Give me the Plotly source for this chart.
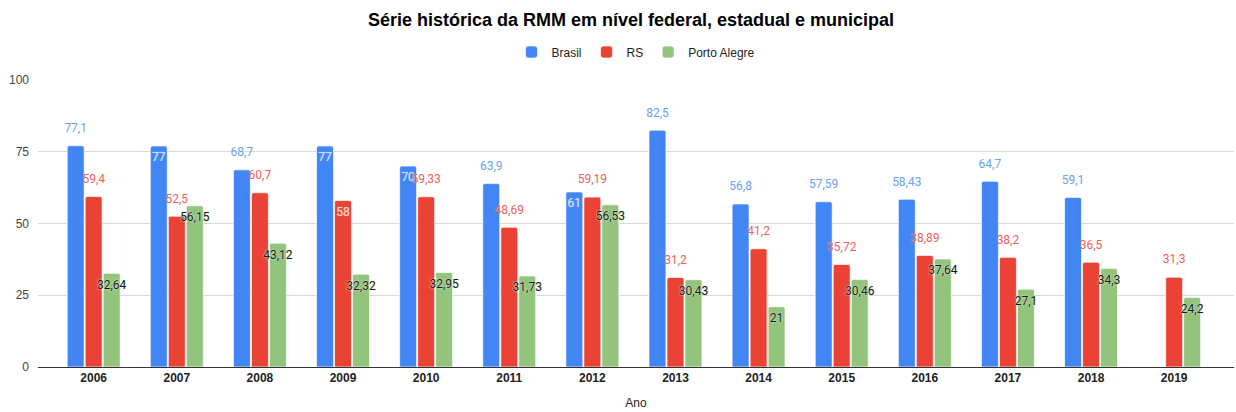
import plotly.graph_objects as go

anos = ["2006", "2007", "2008", "2009", "2010", "2011", "2012",
        "2013", "2014", "2015", "2016", "2017", "2018", "2019"]
brasil = [77.1, 77, 68.7, 77, 70, 63.9, 61, 82.5, 56.8, 57.59, 58.43, 64.7, 59.1, None]
rs = [59.4, 52.5, 60.7, 58, 59.33, 48.69, 59.19, 31.2, 41.2, 35.72, 38.89, 38.2, 36.5, 31.3]
porto_alegre = [32.64, 56.15, 43.12, 32.32, 32.95, 31.73, 56.53, 30.43, 21, 30.46, 37.64, 27.1, 34.3, 24.2]

# label placement style (True = inside the bar top, False = above)
brasil_inside = [False, True, False, True, True, False, True, False, False, False, False, False, False, False]
rs_inside = [False, False, False, True] + [False] * 10
pa_inside = [True] * 14

# name, values, bar colour, outside label colour, inside label colour, halo, placement
series = [
    ("Brasil", brasil, "#4285F4", "#6a9ff6", "#cddffc", "rgba(255,255,255,0.6)", brasil_inside),
    ("RS", rs, "#EA4335", "#ef6158", "#fbd0cc", "rgba(255,255,255,0.6)", rs_inside),
    ("Porto Alegre", porto_alegre, "#93C47D", "#1a1a1a", "#1a1a1a", "#d3e9c8", pa_inside),
]

def fmt(v):
    return "" if v is None else ("%g" % v).replace(".", ",")

fig = go.Figure()
for name, vals, col, lcol, icol, halo, inside in series:
    fig.add_trace(go.Bar(name=name, x=anos, y=vals, hoverinfo="skip",
                         marker=dict(color=col, line=dict(width=0.8, color="rgba(255,255,255,0.85)"))))
for name, vals, col, lcol, icol, halo, inside in series:
    shadow = f"0 0 2px {halo}, 0 0 1px {halo}" if name == "Porto Alegre" else f"0 0 1px {halo}"
    fig.add_trace(go.Scatter(
        x=anos, y=vals, mode="markers+text", showlegend=False, hoverinfo="skip",
        text=[fmt(v) for v in vals],
        textposition=["bottom center" if ins else "top center" for ins in inside],
        marker=dict(color="rgba(0,0,0,0)", size=[8.5 if ins else 15.5 for ins in inside],
                    line=dict(width=0)),
        textfont=dict(family="Roboto", size=12,
                      color=[icol if ins else lcol for ins in inside],
                      shadow=shadow),
        cliponaxis=False,
    ))

fig.update_layout(
    width=1236, height=412,
    margin=dict(l=38, r=2, t=80, b=45),
    paper_bgcolor="white", plot_bgcolor="white",
    barmode="group", bargap=0.35, bargroupgap=0.06, barcornerradius=2,
    scattermode="group", scattergap=0.35,
    title=dict(text="<b>Série histórica da RMM em nível federal, estadual e municipal</b>",
               x=0.5105, xref="container", xanchor="center", y=0.951, yref="container", yanchor="middle",
               font=dict(family="Liberation Sans", size=18, color="#000")),
    legend=dict(orientation="h", x=0.5, xanchor="center", y=1.0976, yanchor="middle",
                font=dict(family="Liberation Sans", size=12, color="#222"),
                itemwidth=30, tracegroupgap=0),
    font=dict(family="Liberation Sans", size=12, color="#222"),
    xaxis=dict(type="category", range=[-0.67, 13.72], showgrid=False, showline=True,
               linecolor="#333", linewidth=1,
               tickfont=dict(family="Liberation Sans", size=12, color="#222", weight="bold"),
               title=dict(text="Ano", font=dict(family="Liberation Sans", size=12, color="#222"), standoff=14)),
    yaxis=dict(range=[0, 100], tickvals=[0, 25, 50, 75, 100], gridcolor="#d9d9d9", gridwidth=1,
               zeroline=False, tickfont=dict(family="Liberation Sans", size=12, color="#444"),
               ticklabelstandoff=8),
)

fig.write_html("out.html", config=dict(displayModeBar=False),
               post_script="document.body.style.margin='0';")
